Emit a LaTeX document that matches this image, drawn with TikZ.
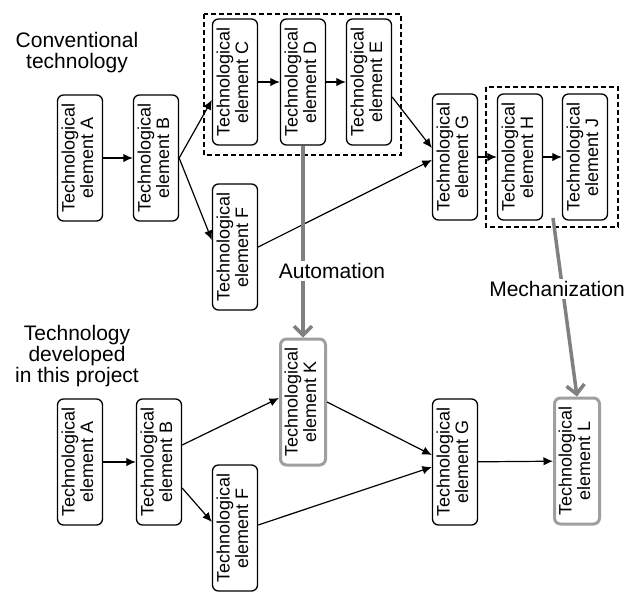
\documentclass[tikz,border=0pt]{standalone}
\usepackage{fontspec}
\setmainfont{Liberation Sans}
\usepackage{tikz}
\usetikzlibrary{arrows.meta}
\tikzset{>={Latex[length=9.5pt,width=8.5pt]}}
\tikzstyle{elem} = [draw, rounded corners=6pt, line width=1.3pt,
    minimum width=45pt, minimum height=126pt, inner sep=0pt,
    font=\fontsize{18}{18}\selectfont]
\tikzstyle{newelem} = [elem, draw=gray!75, line width=3pt]
\tikzstyle{flow} = [->, line width=1.2pt]
\tikzstyle{change} = [-{Straight Barb[length=9pt,width=18pt]}, draw=gray, line width=3.5pt]
\tikzstyle{group} = [line width=1.8pt, dash pattern=on 5pt off 3pt]
\tikzstyle{caption} = [align=center, font=\fontsize{21}{21}\selectfont]
\newcommand{\elemtext}[1]{\rotatebox{90}{\begin{tabular}{@{}c@{}}Technological\\element #1\end{tabular}}}

\begin{document}
\begin{tikzpicture}
\begin{scope}[x=1pt,y=-1pt]
    \useasboundingbox (0,0) rectangle (631,592);
    %groups
    \draw[group] (204,14) rectangle (401,155);
    \draw[group] (486,87) rectangle (618,227);
    %conventional elements
    \node[elem] (a1) at (80,158) {\elemtext{A}};
    \node[elem] (b1) at (156,158) {\elemtext{B}};
    \node[elem] (c) at (235,82) {\elemtext{C}};
    \node[elem] (d) at (303,82) {\elemtext{D}};
    \node[elem] (e) at (369,82) {\elemtext{E}};
    \node[elem] (f1) at (235,247) {\elemtext{F}};
    \node[elem] (g1) at (455,157) {\elemtext{G}};
    \node[elem] (h) at (520,157) {\elemtext{H}};
    \node[elem] (j) at (585,157) {\elemtext{J}};
    %new elements
    \node[elem] (a2) at (80,462) {\elemtext{A}};
    \node[elem] (b2) at (159,462) {\elemtext{B}};
    \node[newelem] (k) at (303,402) {\elemtext{K}};
    \node[elem] (f2) at (235,528) {\elemtext{F}};
    \node[elem] (g2) at (455,462) {\elemtext{G}};
    \node[newelem] (l) at (577,461) {\elemtext{L}};
    %flows
    \draw[flow] (a1) -- (b1);
    \draw[flow] (b1.east) -- ([yshift=-18pt]c.west);
    \draw[flow] (b1.east) -- ([yshift=7pt]f1.west);
    \draw[flow] (c) -- (d);
    \draw[flow] (d) -- (e);
    \draw[flow] ([yshift=-15pt]e.east) -- ([yshift=9pt]g1.west);
    \draw[flow] (f1.east) -- ([yshift=-3pt]g1.west);
    \draw[flow] (g1) -- (h);
    \draw[flow] (h) -- (j);
    \draw[flow] (a2) -- (b2);
    \draw[flow] ([yshift=17pt]b2.east) -- ([yshift=4pt]k.west);
    \draw[flow] ([yshift=-26pt]b2.east) -- ([yshift=6pt]f2.west);
    \draw[flow] (k.east) -- ([yshift=7pt]g2.west);
    \draw[flow] ([yshift=3pt]f2.east) -- ([yshift=-5pt]g2.west);
    \draw[flow] (g2) -- (l);
    %changes
    \coordinate (hj) at (553,218);
    \draw[change] (d.south) -- (k.north);
    \draw[change] (hj) -- (l.north);
    %labels
    \node[caption] (conv) at (77,53) {Conventional\\technology};
    \node[caption] (proj) at (77,356) {Technology\\developed\\in this project};
    \node[caption, fill=white, inner sep=2pt] (auto) at (332,271) {Automation};
    \node[caption, fill=white, inner sep=2pt] (mech) at (557,289) {Mechanization};
\end{scope}
\end{tikzpicture}
\end{document}
